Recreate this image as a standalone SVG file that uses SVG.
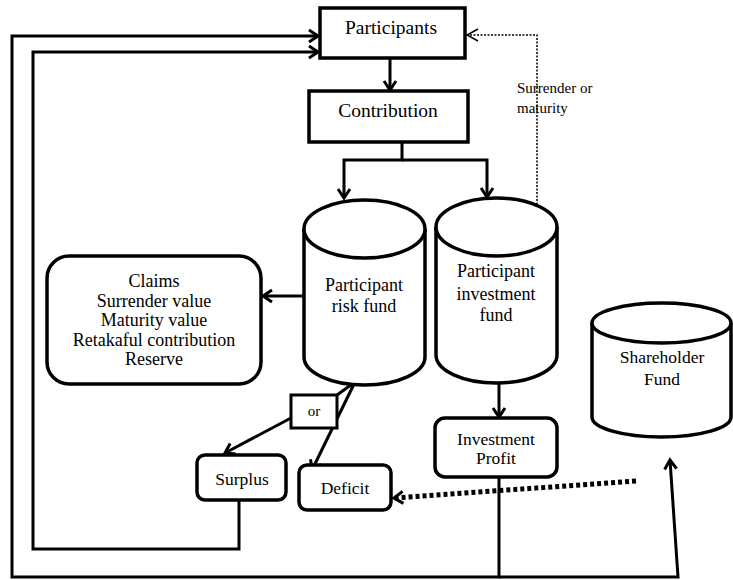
<svg xmlns="http://www.w3.org/2000/svg" width="733" height="580" viewBox="0 0 733 580">
<style>
.box{fill:#fff;stroke:#000;stroke-width:3.5}
.cyl{fill:#fff;stroke:#000;stroke-width:3.5}
.ln{fill:none;stroke:#000;stroke-width:3}
text{font-family:'Liberation Serif','DejaVu Serif',serif;fill:#000}
.t{font-size:17.5px;text-anchor:middle}
.mid{font-size:18px}
.big{font-size:19.5px}
.sm{font-size:15px}
</style>
<defs>
<marker id="ah" markerUnits="userSpaceOnUse" markerWidth="16" markerHeight="16" refX="12" refY="8" orient="auto" viewBox="0 0 16 16">
<path d="M3,2 L12,8 L3,14" fill="none" stroke="#000" stroke-width="3"/>
</marker>
</defs>

<g id="connectors">
<polyline class="ln" points="499,477 499,577 12,577 12,36 318,36" marker-end="url(#ah)"/>
<polyline class="ln" points="239,500 239,549 33,549 33,52 318,52" marker-end="url(#ah)"/>
<polyline class="ln" points="499,577 678,577 670,460" marker-end="url(#ah)"/>
<line class="ln" x1="390" y1="58" x2="390" y2="90" marker-end="url(#ah)"/>
<polyline class="ln" points="402,142 402,160 344,160 344,198" marker-end="url(#ah)"/>
<polyline class="ln" points="402,160 487,160 487,197" marker-end="url(#ah)"/>
<line class="ln" x1="304" y1="296" x2="263" y2="296" marker-end="url(#ah)"/>
<line class="ln" x1="499" y1="384" x2="499" y2="417" marker-end="url(#ah)"/>
<line class="ln" x1="355" y1="382" x2="337" y2="395"/>
<line class="ln" x1="291" y1="418" x2="225" y2="453" marker-end="url(#ah)"/>
<line class="ln" x1="355" y1="382" x2="312" y2="470" marker-end="url(#ah)"/>
<line x1="636" y1="481" x2="394" y2="498" stroke="#000" stroke-width="5" stroke-dasharray="4,3" marker-end="url(#ah)"/>
<polyline points="537,208 537,35 467,35" fill="none" stroke="#000" stroke-width="1.5" stroke-dasharray="2,1.5"/>
<path d="M478,29 L467,35 L478,41" fill="none" stroke="#000" stroke-width="1.5"/>
<text class="sm" x="517" y="93">Surrender or</text>
<text class="sm" x="517" y="113">maturity</text>
</g>

<g id="participants">
<rect class="box" x="320" y="8" width="145" height="50"/>
<text class="t big" x="391" y="34">Participants</text>
</g>

<g id="contribution">
<rect class="box" x="309" y="91" width="159" height="51"/>
<text class="t big" x="388" y="117">Contribution</text>
</g>

<g id="risk-fund">
<path class="cyl" d="M304,229 A60.5,29 0 0 1 425,229 L425,357 A60.5,28 0 0 1 304,357 Z"/>
<path class="cyl" d="M304,229 A60.5,29 0 0 0 425,229" fill="none"/>
<text class="t mid" x="364" y="291">Participant</text>
<text class="t mid" x="364" y="312">risk fund</text>
</g>

<g id="investment-fund">
<path class="cyl" d="M436,227 A60.5,29 0 0 1 557,227 L557,355 A60.5,28 0 0 1 436,355 Z"/>
<path class="cyl" d="M436,227 A60.5,29 0 0 0 557,227" fill="none"/>
<text class="t mid" x="496" y="277">Participant</text>
<text class="t mid" x="496" y="300">investment</text>
<text class="t mid" x="496" y="321">fund</text>
</g>

<g id="shareholder-fund">
<path class="cyl" d="M592,323 A69.5,20 0 0 1 731,323 L731,417 A69.5,20 0 0 1 592,417 Z"/>
<path class="cyl" d="M592,323 A69.5,20 0 0 0 731,323" fill="none"/>
<text class="t" x="662" y="363">Shareholder</text>
<text class="t" x="662" y="385">Fund</text>
</g>

<g id="claims">
<rect class="box" x="47" y="256" width="214" height="128" rx="22"/>
<text class="t mid" x="154" y="287">Claims</text>
<text class="t mid" x="154" y="306.5">Surrender value</text>
<text class="t mid" x="154" y="326">Maturity value</text>
<text class="t mid" x="154" y="345.5">Retakaful contribution</text>
<text class="t mid" x="154" y="365">Reserve</text>
</g>

<g id="or">
<rect x="291" y="395" width="46" height="33" fill="#fff" stroke="#000" stroke-width="3"/>
<text class="sm" x="314" y="416" text-anchor="middle">or</text>
</g>

<g id="surplus">
<rect class="box" x="197" y="455" width="89" height="45" rx="8"/>
<text class="t" x="242" y="485">Surplus</text>
</g>

<g id="deficit">
<rect class="box" x="299" y="465" width="92" height="45" rx="8"/>
<text class="t" x="345" y="494">Deficit</text>
</g>

<g id="investment-profit">
<rect class="box" x="435" y="418" width="122" height="59" rx="10"/>
<text class="t" x="496" y="445">Investment</text>
<text class="t" x="496" y="464">Profit</text>
</g>
</svg>
